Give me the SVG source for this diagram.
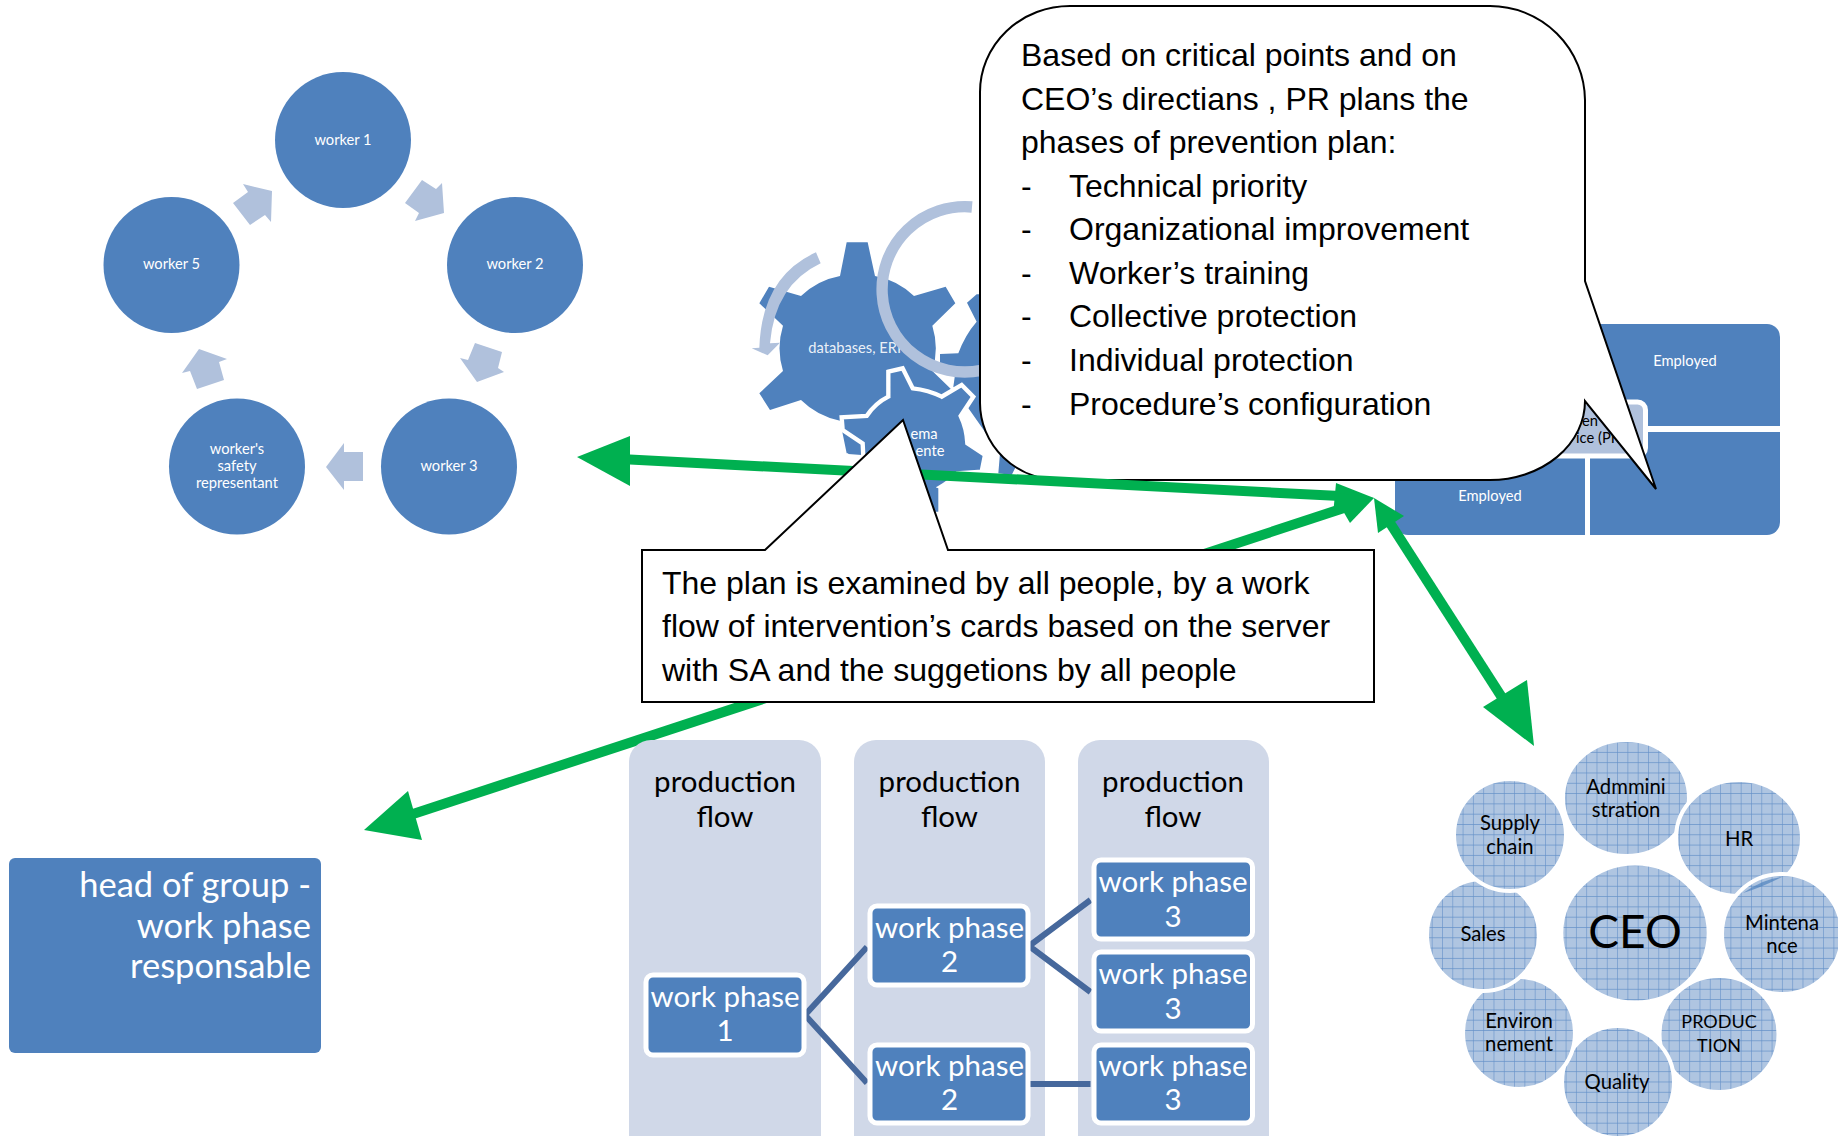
<svg xmlns="http://www.w3.org/2000/svg" width="1838" height="1136" viewBox="0 0 1838 1136">
<style>
.b{fill:#4f81bd}
.l{fill:#b0c1dc}
.w{font-family:Lato,"Open Sans",sans-serif;fill:#fff;text-anchor:middle}
.k{font-family:Lato,"Open Sans",sans-serif;fill:#000;text-anchor:middle}
.t{font-family:"Liberation Sans",Arial,sans-serif;font-size:32px;fill:#000}
.s13{font-size:14.700px}
.s27{font-size:29.500px}
.s18{font-size:20.300px}
.s17{font-size:18px}
.g{fill:none;stroke:#00b050;stroke-width:10}
.h{fill:#00b050}
.c{fill:url(#grid);stroke:#fff;stroke-width:4}
.wp{fill:#4f81bd;stroke:#fff;stroke-width:5}
.col{fill:#d0d8e8}
.cn{fill:none;stroke:#46689c;stroke-width:6}
.co{fill:#fff;stroke:#000;stroke-width:2;stroke-linejoin:miter}
</style>
<defs>
<pattern id="grid" width="10.3" height="10.3" patternUnits="userSpaceOnUse">
<rect width="10.3" height="10.3" fill="#afc5e1"/>
<path d="M0 0H10.3M0 0V10.3" stroke="#6491c8" stroke-width="1.2" fill="none"/>
</pattern>
</defs>
<rect width="1838" height="1136" fill="#fff"/>

<g id="worker-1"><circle class="b" cx="343" cy="140" r="68"/><text class="w s13" x="343" y="145">worker 1</text></g>
<g id="worker-2"><circle class="b" cx="515" cy="265" r="68"/><text class="w s13" x="515" y="269">worker 2</text></g>
<g id="worker-3"><circle class="b" cx="449" cy="466.500" r="68"/><text class="w s13" x="449" y="471">worker 3</text></g>
<g id="worker-rep"><circle class="b" cx="237" cy="466.500" r="68"/><text class="w s13" x="237" y="454">worker's</text><text class="w s13" x="237" y="471">safety</text><text class="w s13" x="237" y="488">representant</text></g>
<g id="worker-5"><circle class="b" cx="171.500" cy="265" r="68"/><text class="w s13" x="171.500" y="269">worker 5</text></g>
<g id="cycle-arrows">
<polygon class="l" points="422,180 436,189 442,183 444,213 415,221 419,213 405,203"/>
<polygon class="l" points="475,343 502,352 498,368 504,372 477,382 460,358 468,360"/>
<polygon class="l" points="363,452 344,452 344,443 326,467 344,490 344,481 363,481"/>
<polygon class="l" points="197,389 224,380 219,362 227,359 199,349 182,373 190,371"/>
<polygon class="l" points="233,203 250,225 265,215 271,222 272,191 243,184 248,192"/>
</g>

<g id="gears">
<g transform="translate(720 180) scale(.33333)">
<path class="b" d="M380,187 L443,187 L465,288 A230,230 0 0 1 582,348 L677,320 L706,370 L637,437 A230,230 0 0 1 637,573 L706,640 L677,690 L582,660 A230,230 0 0 1 465,722 L443,820 L380,820 L360,722 A230,230 0 0 1 243,660 L150,690 L118,640 L189,573 A230,230 0 0 1 189,437 L118,370 L147,320 L243,348 A230,230 0 0 1 360,288 Z"/>
<path class="b" d="M741,368 L770,343 L900,343 L900,860 L890,855 L875,885 L835,880 L840,820 L700,620 L705,585 L660,558 L660,522 L715,520 Q735,465 770,425 Z"/>
</g>
<text class="w s13" x="857" y="353" fill-opacity=".9">databases, ERP</text>
<g transform="translate(720 180) scale(.33333)">
<path d="M288,217 L302,250 Q165,315 150,490 L180,488 L143,526 L95,505 L118,503 Q125,290 288,217 Z" class="l"/>
<path d="M756,81 A248,248 0 1 0 784,571" fill="none" stroke="#b0c1dc" stroke-width="34"/>
<path class="b" d="M372,752 L418,790 L425,825 L385,822 Z"/>
<path class="b" stroke="#fff" stroke-width="13" d="M505,575 L548,565 L578,625 Q625,630 665,650 L725,615 L760,650 L722,708 Q740,745 742,790 L795,825 L785,875 L712,880 Q690,905 655,925 L655,995 L600,995 L560,900 L430,830 L428,790 L368,750 L365,712 L440,708 Q465,670 505,650 Z"/>
<path class="b" d="M640,920 L655,925 L655,995 L600,995 L590,920 Z"/>
</g>
<text class="w s13" x="924" y="439">ema</text>
<text class="w s13" x="930" y="456">ente</text>
</g>

<g id="org-chart">
<path class="b" d="M1600,324 H1767 A13,13 0 0 1 1780,337 V426 H1600 Z"/>
<path class="b" d="M1590,432 H1780 V522 A13,13 0 0 1 1767,535 H1590 Z"/>
<path class="b" d="M1395,432 H1585 V535 H1408 A13,13 0 0 1 1395,522 Z"/>
<rect class="l" x="1480" y="402" width="165.500" height="54" rx="8" stroke="#fff" stroke-width="5"/>
<text class="w s13" x="1685" y="366">Employed</text>
<text class="w s13" x="1490" y="501">Employed</text>
<text class="k s13" x="1590" y="426">en</text>
<text class="k s13" x="1598" y="443">ice (PR</text>
</g>

<g id="callout-plan">
<path class="co" d="M1072,6 H1490 A95,95 0 0 1 1585,100 V281 L1656,489 L1585,401 A95,79 0 0 1 1490,480 H1060 A80,77 0 0 1 980,403 V92 A90,86 0 0 1 1070,6 Z"/>
<text class="t" x="1021" y="66">Based on critical points and on</text>
<text class="t" x="1021" y="110">CEO’s directians , PR plans the</text>
<text class="t" x="1021" y="153">phases of prevention plan:</text>
<text class="t" x="1021" y="197">-</text><text class="t" x="1069" y="197">Technical priority</text>
<text class="t" x="1021" y="240">-</text><text class="t" x="1069" y="240">Organizational improvement</text>
<text class="t" x="1021" y="284">-</text><text class="t" x="1069" y="284">Worker’s training</text>
<text class="t" x="1021" y="327">-</text><text class="t" x="1069" y="327">Collective protection</text>
<text class="t" x="1021" y="371">-</text><text class="t" x="1069" y="371">Individual protection</text>
<text class="t" x="1021" y="415">-</text><text class="t" x="1069" y="415">Procedure’s configuration</text>
</g>

<g id="connectors">
<line class="g" x1="620" y1="459" x2="1340" y2="496"/>
<polygon class="h" points="577,457 630,436 630,486"/>
<polygon class="h" points="1374,498 1336,483 1333,515"/>
<line class="g" x1="1350" y1="506" x2="410" y2="815"/>
<polygon class="h" points="1374,498 1350,523 1332,492"/>
<polygon class="h" points="364,830 408,791 422,840"/>
<line class="g" x1="1390" y1="523" x2="1510" y2="710"/>
<polygon class="h" points="1374,498 1404,516 1378,533"/>
<polygon class="h" points="1534,746 1483,707 1527,680"/>
</g>

<g id="callout-exam">
<path class="co" d="M642,550 H765 L903,420 L948,550 H1374 V702 H642 Z"/>
<text class="t" x="662" y="594">The plan is examined by all people, by a work</text>
<text class="t" x="662" y="637">flow of intervention’s cards based on the server</text>
<text class="t" x="662" y="681">with SA and the suggetions by all people</text>
</g>

<g id="head-of-group">
<rect class="b" x="9" y="858" width="312" height="195" rx="6"/>
<text class="w" style="text-anchor:end;font-size:34.500px" x="311" y="897">head of group -</text>
<text class="w" style="text-anchor:end;font-size:34.500px" x="311" y="938">work phase</text>
<text class="w" style="text-anchor:end;font-size:34.500px" x="311" y="978">responsable</text>
</g>

<g id="column-1"><rect class="col" x="629" y="740" width="192" height="440" rx="22"/><text class="k s27" x="725" y="792">production</text><text class="k s27" x="725" y="827">flow</text></g>
<g id="column-2"><rect class="col" x="854" y="740" width="191" height="440" rx="22"/><text class="k s27" x="949.500" y="792">production</text><text class="k s27" x="949.500" y="827">flow</text></g>
<g id="column-3"><rect class="col" x="1078" y="740" width="191" height="440" rx="22"/><text class="k s27" x="1173" y="792">production</text><text class="k s27" x="1173" y="827">flow</text></g>

<g id="flow-connectors">
<polyline class="cn" points="867,947 805,1015 867,1083"/>
<polyline class="cn" points="1090.500,900 1029,946 1090.500,992"/>
<line class="cn" x1="1029" y1="1084" x2="1090.500" y2="1084"/>
</g>

<g id="phase-1"><rect class="wp" x="646" y="975" width="158" height="80" rx="7"/><text class="w s27" x="725" y="1007">work phase</text><text class="w s27" x="725" y="1041">1</text></g>
<g id="phase-2a"><rect class="wp" x="870" y="906" width="158" height="79" rx="7"/><text class="w s27" x="949.500" y="938">work phase</text><text class="w s27" x="949.500" y="972">2</text></g>
<g id="phase-2b"><rect class="wp" x="870" y="1045" width="158" height="78" rx="7"/><text class="w s27" x="949.500" y="1076">work phase</text><text class="w s27" x="949.500" y="1110">2</text></g>
<g id="phase-3a"><rect class="wp" x="1094" y="860" width="158.500" height="79" rx="7"/><text class="w s27" x="1173" y="892">work phase</text><text class="w s27" x="1173" y="927">3</text></g>
<g id="phase-3b"><rect class="wp" x="1094" y="952" width="158.500" height="79" rx="7"/><text class="w s27" x="1173" y="984">work phase</text><text class="w s27" x="1173" y="1019">3</text></g>
<g id="phase-3c"><rect class="wp" x="1094" y="1045" width="158.500" height="78" rx="7"/><text class="w s27" x="1173" y="1076">work phase</text><text class="w s27" x="1173" y="1110">3</text></g>

<g id="org-admin"><ellipse class="c" cx="1626" cy="798" rx="63" ry="58"/><text class="k s18" x="1626" y="794">Admmini</text><text class="k s18" x="1626" y="817">stration</text></g>
<g id="org-hr"><ellipse class="c" cx="1739" cy="838" rx="63" ry="58"/><text class="k s18" x="1739" y="846">HR</text></g>
<g id="org-maint"><ellipse class="c" cx="1782" cy="934" rx="60" ry="60"/><path d="M1743,893 Q1765,878 1782,877 Q1760,888 1743,893 Z" fill="#4f81bd" fill-opacity=".7"/><text class="k s18" x="1782" y="930">Mintena</text><text class="k s18" x="1782" y="953">nce</text></g>
<g id="org-production"><ellipse class="c" cx="1719" cy="1034" rx="59.500" ry="58"/><text class="k s17" x="1719" y="1028">PRODUC</text><text class="k s17" x="1719" y="1052">TION</text></g>
<g id="org-quality"><circle class="c" cx="1618" cy="1082" r="56"/><text class="k s18" x="1617" y="1089">Quality</text></g>
<g id="org-environ"><circle class="c" cx="1519" cy="1033" r="56"/><text class="k s18" x="1519" y="1028">Environ</text><text class="k s18" x="1519" y="1051">nement</text></g>
<g id="org-sales"><circle class="c" cx="1483" cy="935" r="56"/><text class="k s18" x="1483" y="941">Sales</text></g>
<g id="org-supply"><circle class="c" cx="1510" cy="835" r="56"/><text class="k s18" x="1510" y="830">Supply</text><text class="k s18" x="1510" y="854">chain</text></g>
<g id="org-ceo"><ellipse class="c" cx="1635" cy="933" rx="73.700" ry="69.500"/><text class="k" style="font-size:46px" x="1635" y="948">CEO</text></g>
</svg>
